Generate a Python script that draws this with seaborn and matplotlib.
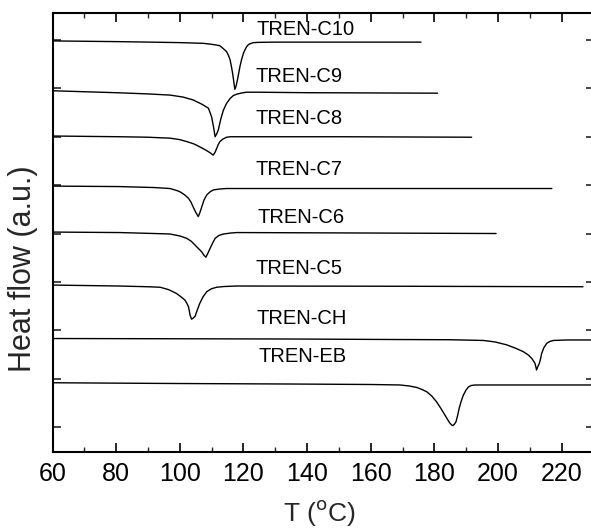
import matplotlib
matplotlib.use("Agg")
import matplotlib.pyplot as plt
import seaborn as sns
import pandas as pd
from matplotlib.ticker import MultipleLocator

# ---- data ----
samples = ["TREN-C10", "TREN-C9", "TREN-C8", "TREN-C7", "TREN-C6", "TREN-C5", "TREN-CH", "TREN-EB"]

c10_T = [60, 81, 100, 107.4, 110, 111.5, 112.6, 113.5, 114.7, 115.3, 115.8, 116.2, 116.6, 116.9, 117.3,
         117.7, 118.1, 118.5, 118.9, 119.4, 120.0, 120.5, 121.0, 121.5, 122.0, 123.1, 124.5, 130, 175.8]
c10_y = [8.98, 8.965, 8.945, 8.93, 8.91, 8.895, 8.88, 8.83, 8.76, 8.68, 8.59, 8.46, 8.31, 8.17, 7.98,
         8.05, 8.17, 8.31, 8.45, 8.59, 8.725, 8.80, 8.86, 8.90, 8.92, 8.944, 8.95, 8.955, 8.955]

c9_T = [60, 80, 90, 97, 101, 104.2, 107, 109.0, 110.0, 110.6, 111.1, 111.6, 112.1, 112.9, 113.7,
        114.7, 115.8, 116.8, 117.9, 119.5, 121, 125, 140, 181]
c9_y = [7.95, 7.91, 7.885, 7.86, 7.82, 7.76, 7.67, 7.59, 7.41, 7.20, 7.00, 7.06, 7.14, 7.37, 7.55,
        7.69, 7.79, 7.85, 7.88, 7.905, 7.92, 7.92, 7.91, 7.90]

c8_T = [60, 81, 90, 97, 100, 102.2, 104.5, 106.3, 108, 109.5, 110.5, 111.1, 111.6, 112.1, 112.6,
        113.5, 114.7, 116, 150, 191.7]
c8_y = [7.015, 7.00, 6.99, 6.97, 6.94, 6.90, 6.85, 6.79, 6.73, 6.67, 6.62, 6.68, 6.76, 6.84, 6.90,
        6.95, 6.99, 7.00, 7.00, 6.99]

c7_T = [60, 81, 92, 96.9, 99, 100.1, 101.5, 102.7, 103.5, 104.2, 105, 105.8, 106.3, 106.9, 107.6,
        108.5, 109.5, 110.5, 112.5, 114.7, 160, 216.9]
c7_y = [5.98, 5.97, 5.95, 5.93, 5.89, 5.86, 5.80, 5.73, 5.65, 5.55, 5.44, 5.35, 5.43, 5.55, 5.69,
        5.80, 5.86, 5.90, 5.92, 5.93, 5.93, 5.93]

c6_T = [60, 81, 92, 96.9, 100, 102.2, 103.6, 104.8, 106, 106.9, 107.6, 108.2, 108.8, 109.5, 110.3,
        111.1, 112.3, 113.7, 116, 117.9, 160, 199.4]
c6_y = [5.03, 5.02, 5.00, 4.99, 4.95, 4.90, 4.84, 4.76, 4.68, 4.62, 4.55, 4.51, 4.59, 4.69, 4.80,
        4.90, 4.96, 4.99, 5.01, 5.02, 5.01, 5.00]

c5_T = [60, 81, 90, 93.8, 96.5, 99, 100.4, 101.6, 102.2, 102.7, 103.0, 103.2, 103.7, 104.2, 104.8,
        105.5, 106.3, 107.3, 108.5, 110, 111.6, 114, 117.9, 170, 226.7]
c5_y = [3.935, 3.915, 3.90, 3.89, 3.84, 3.76, 3.69, 3.625, 3.56, 3.49, 3.40, 3.32, 3.23, 3.25, 3.29,
        3.42, 3.56, 3.69, 3.80, 3.86, 3.89, 3.905, 3.915, 3.91, 3.90]

ch_T = [60, 100, 134.6, 166, 185, 195.4, 199, 202.7, 205.5, 207.9, 209.5, 210.6, 211.2, 211.6, 211.9,
        212.1, 212.5, 213.0, 213.4, 213.7, 214.4, 215.3, 216.3, 217.4, 221.6, 230]
ch_y = [2.83, 2.825, 2.82, 2.81, 2.805, 2.79, 2.76, 2.70, 2.63, 2.56, 2.49, 2.42, 2.36, 2.32, 2.24,
        2.18, 2.25, 2.32, 2.42, 2.52, 2.64, 2.73, 2.77, 2.79, 2.80, 2.80]

eb_T = [60, 100, 134.6, 160, 169.2, 172, 174.4, 176, 177.6, 179.2, 180.7, 182, 183.3, 184.2, 184.9,
        185.4, 185.8, 186.3, 186.8, 187.3, 187.8, 188.4, 189.1, 189.9, 190.7, 191.6, 192.8, 230]
eb_y = [1.916, 1.90, 1.89, 1.88, 1.87, 1.85, 1.82, 1.78, 1.73, 1.64, 1.52, 1.39, 1.25, 1.15, 1.08,
        1.045, 1.03, 1.06, 1.11, 1.24, 1.39, 1.53, 1.66, 1.76, 1.83, 1.86, 1.87, 1.87]

label_T = [124.2, 123.9, 123.9, 123.9, 124.3, 123.9, 124.2, 124.7]
label_y = [9.21, 8.24, 7.38, 6.33, 5.34, 4.28, 3.25, 2.45]

x_ticks = [60, 80, 100, 120, 140, 160, 180, 200, 220]
y_ticks = [1, 2, 3, 4, 5, 6, 7, 8, 9]

# ---- build table ----
curves = [(c10_T, c10_y), (c9_T, c9_y), (c8_T, c8_y), (c7_T, c7_y),
          (c6_T, c6_y), (c5_T, c5_y), (ch_T, ch_y), (eb_T, eb_y)]
frames = []
for name, (t, y) in zip(samples, curves):
    frames.append(pd.DataFrame({"T": t, "HF": y, "sample": name}))
df = pd.concat(frames, ignore_index=True)

sns.set_theme(style="ticks")
plt.rcParams["font.family"] = ["Liberation Sans", "DejaVu Sans"]

fig = plt.figure(figsize=(5.91, 5.30), dpi=100)
ax = fig.add_axes([52.5 / 591, 1 - 452 / 530, (593.5 - 52.5) / 591, (452 - 13) / 530])

sns.lineplot(data=df, x="T", y="HF", units="sample", estimator=None, sort=False,
             color="black", linewidth=1.0, ax=ax, legend=False)
for line in ax.get_lines():
    line.set_solid_joinstyle("round")

for name, tx, ty in zip(samples, label_T, label_y):
    ax.text(tx, ty, name, fontsize=14.5, ha="left", va="center", color="black")

ax.set_xlim(60, 230)
ax.set_ylim(0.485, 9.557)
ax.set_xticks(x_ticks)
ax.xaxis.set_minor_locator(MultipleLocator(10))
ax.set_yticks(y_ticks)
ax.set_yticklabels([])

ax.tick_params(axis="x", which="major", direction="in", length=6.5, width=1.2,
               top=True, labelsize=18, pad=7, colors="black")
ax.tick_params(axis="x", which="minor", direction="in", length=3.6, width=1.0, top=True)
ax.tick_params(axis="y", which="major", direction="in", length=6, width=1.2, right=True)

for s in ax.spines.values():
    s.set_linewidth(1.5)
    s.set_color("black")

ax.set_xlabel("T ($^{\\rm o}$C)", fontsize=19, va="center")
ax.set_ylabel("Heat flow (a.u.)", fontsize=22, va="center")
ax.yaxis.set_label_coords(-0.055, 0.417)
ax.xaxis.set_label_coords(0.494, -0.138)

fig.savefig("out.png", dpi=100)
